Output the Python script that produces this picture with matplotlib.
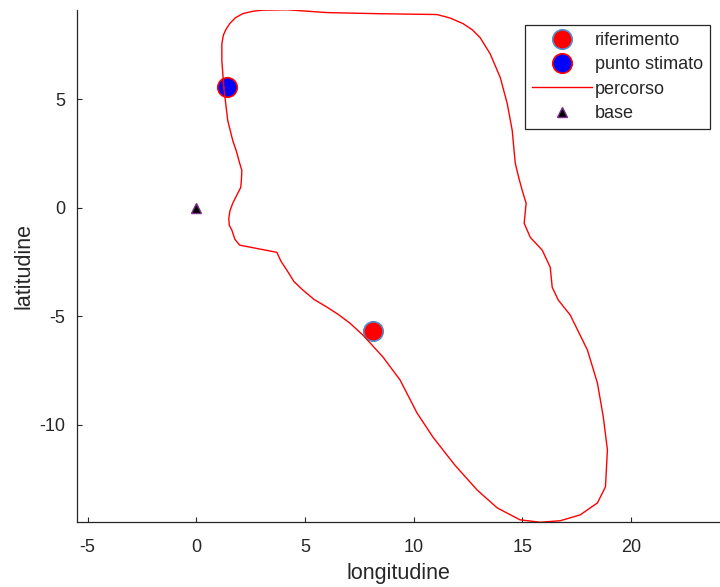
import matplotlib
matplotlib.use('Agg')
import matplotlib.pyplot as plt

plt.rcParams['font.family'] = ['Liberation Sans', 'DejaVu Sans']
plt.rcParams['axes.unicode_minus'] = False

# path (percorso)
path_x = [1.27, 1.18, 1.18, 1.25, 1.36, 1.54, 1.80, 2.14, 2.60, 3.02, 4.17, 6.01,
          8.32, 11.08, 11.68, 12.28, 12.70, 13.06, 13.52, 13.99, 14.31, 14.54,
          14.68, 14.85, 15.00, 15.18, 15.09, 15.37, 15.92, 16.29, 16.38, 16.66,
          17.21, 18.00, 18.46, 18.73, 18.92, 18.83, 18.46, 17.67, 16.75, 15.83,
          14.90, 13.85, 12.93, 11.90, 10.90, 10.16, 9.38, 8.59, 7.67, 7.07, 6.52,
          6.01, 5.42, 4.91, 4.50, 4.17, 3.90, 3.71, 2.00, 1.78, 1.64, 1.52, 1.50,
          1.55, 1.68, 1.85, 2.05, 2.08, 2.10, 2.00, 1.85, 1.68, 1.45, 1.27]
path_y = [5.54, 6.78, 7.56, 7.95, 8.20, 8.48, 8.75, 8.94, 9.05, 9.10, 9.12, 8.99,
          8.94, 8.90, 8.74, 8.48, 8.20, 7.84, 7.10, 6.00, 4.80, 3.56,
          2.05, 1.35, 0.80, 0.21, -0.71, -1.36, -1.95, -2.74, -3.66, -4.25,
          -4.94, -6.55, -8.07, -9.63, -11.15, -12.85, -13.59, -14.14, -14.41,
          -14.48, -14.37, -13.82, -13.00, -11.85, -10.57, -9.45, -7.93, -6.87,
          -5.86, -5.31, -4.90, -4.57, -4.22, -3.79, -3.40, -2.87, -2.46, -2.05,
          -1.72, -1.45, -1.03, -0.80, -0.48, -0.15, 0.21, 0.55, 0.94, 1.30,
          1.72, 2.05, 2.60, 3.10, 4.02, 5.54]

ref_x, ref_y = [8.13], [-5.69]     # riferimento
est_x, est_y = [1.41], [5.56]      # punto stimato
base_x, base_y = [0.0], [0.0]      # base

fig = plt.figure(figsize=(7.2, 5.87), dpi=100)
ax = fig.add_axes([0.1065, 0.1107, 0.8935, 0.8723])

axc = '#262626'
ax.plot(ref_x, ref_y, 'o', ms=14, mfc='#ff0000', mec='#4f8fd0', mew=1.2,
        label='riferimento', ls='none')
ax.plot(est_x, est_y, 'o', ms=14, mfc='#0000ff', mec='#ff0000', mew=1.2,
        label='punto stimato', ls='none')
ax.plot(path_x, path_y, '-', color='#ff0000', lw=1.0, label='percorso')
ax.plot(base_x, base_y, '^', ms=7, mfc='black', mec='#7e2f8e', mew=1.0,
        label='base', ls='none')

ax.set_xlim(-5.5, 24.1)
ax.set_ylim(-14.47, 9.11)
ax.set_xticks([-5, 0, 5, 10, 15, 20])
ax.set_yticks([-10, -5, 0, 5])

for s in ['top', 'right']:
    ax.spines[s].set_visible(False)
for s in ['left', 'bottom']:
    ax.spines[s].set_color(axc)
    ax.spines[s].set_linewidth(0.9)
ax.tick_params(direction='in', length=3.5, width=0.8, colors=axc, labelsize=13)
ax.tick_params(axis='x', pad=12.5)
ax.tick_params(axis='y', pad=8)

ax.set_xlabel('longitudine', fontsize=15.5, color=axc, labelpad=5)
ax.set_ylabel('latitudine', fontsize=15.5, color=axc, labelpad=4)

leg = ax.legend(loc='upper right', bbox_to_anchor=(0.9845, 0.9707),
                borderaxespad=0, fontsize=13, fancybox=False,
                edgecolor=axc, framealpha=1, handlelength=3.3,
                handletextpad=0.15, labelspacing=0.4, borderpad=0.4)
leg.get_frame().set_linewidth(0.9)
for t in leg.get_texts():
    t.set_color(axc)

fig.savefig('out.png', dpi=100)
